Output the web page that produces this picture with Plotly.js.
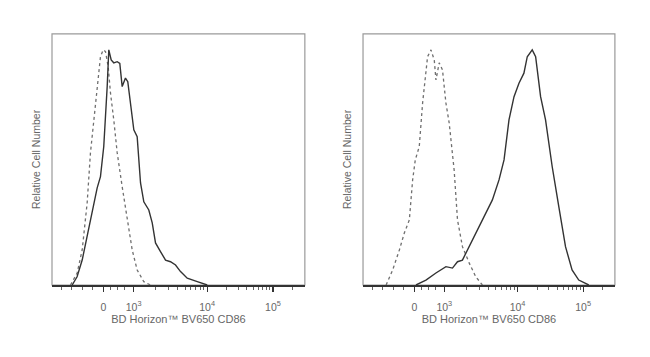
<!DOCTYPE html>
<html>
<head>
<meta charset="utf-8">
<script src="https://cdn.plot.ly/plotly-3.0.1.min.js"></script>
<style>html,body{margin:0;padding:0;background:#fff;}#chart{width:650px;height:357px;}</style>
</head>
<body>
<div id="chart"></div>
<script>
// x values are in logicle display units (0 = zero, ~0.43 = 10^3, ~1.48 = 10^4, ~2.42 = 10^5)
const tickVals = [0, 0.43, 1.48, 2.42];
const tickText = ['0', '10<sup>3</sup>', '10<sup>4</sup>', '10<sup>5</sup>'];
const xTitle = 'BD Horizon™ BV650 CD86';
const yTitle = 'Relative Cell Number';

// Left panel
const leftIsoX = [-0.471,-0.376,-0.304,-0.233,-0.186,-0.139,-0.09,-0.043,-0.004,0.029,0.067,0.1,0.147,0.196,0.267,0.339,0.41,0.481,0.576,0.671];
const leftIsoY = [0,0.051,0.149,0.349,0.562,0.702,0.83,0.971,1.0,0.993,0.929,0.817,0.702,0.562,0.418,0.277,0.149,0.064,0.014,0];
const leftStainX = [-0.447,-0.377,-0.304,-0.233,-0.139,-0.09,-0.043,0.004,0.053,0.076,0.11,0.147,0.196,0.233,0.267,0.314,0.347,0.386,0.433,0.481,0.504,0.529,0.576,0.647,0.696,0.743,0.814,0.886,0.957,1.029,1.1,1.196,1.339,1.481];
const leftStainY = [0,0.035,0.106,0.206,0.333,0.413,0.461,0.589,0.844,1.0,0.957,0.945,0.95,0.943,0.844,0.88,0.865,0.774,0.66,0.631,0.532,0.434,0.354,0.319,0.264,0.179,0.142,0.106,0.099,0.085,0.057,0.029,0.014,0];

// Right panel
const rightIsoX = [-0.404,-0.31,-0.214,-0.143,-0.071,-0.024,0.014,0.071,0.119,0.19,0.239,0.286,0.31,0.357,0.404,0.453,0.5,0.571,0.619,0.69,0.786,0.881,0.976];
const rightIsoY = [0,0.064,0.149,0.221,0.277,0.447,0.532,0.589,0.774,0.971,1.0,0.957,0.872,0.945,0.915,0.774,0.689,0.489,0.277,0.163,0.094,0.035,0];
const rightStainX = [0.024,0.167,0.31,0.453,0.547,0.619,0.69,0.761,0.833,0.929,1.024,1.119,1.214,1.286,1.357,1.429,1.5,1.571,1.619,1.69,1.739,1.81,1.881,1.976,2.071,2.167,2.261,2.357,2.5];
const rightStainY = [0,0.021,0.051,0.078,0.072,0.099,0.106,0.149,0.191,0.248,0.305,0.362,0.447,0.532,0.702,0.801,0.858,0.901,0.971,1.0,0.971,0.801,0.702,0.504,0.333,0.163,0.064,0.021,0];

// minor tick positions (log-spaced within decades)
const minorTicks = [];
[-0.6,-0.45,-0.3,-0.15,0.1,0.2,0.3].forEach(v => minorTicks.push(v));
for (let m = 2; m <= 9; m++) {
  minorTicks.push(tickVals[1] + (tickVals[2]-tickVals[1]) * Math.log10(m));
  minorTicks.push(tickVals[2] + (tickVals[3]-tickVals[2]) * Math.log10(m));
}
minorTicks.push(tickVals[3] + (tickVals[3]-tickVals[2]) * Math.log10(2));

const isoLine = {color: '#6f6f6f', width: 1.3, dash: 'dot'};
const stainLine = {color: '#333', width: 1.4};
const traces = [
  {x: leftIsoX, y: leftIsoY, type: 'scatter', mode: 'lines', line: isoLine, xaxis: 'x', yaxis: 'y', hoverinfo: 'none'},
  {x: leftStainX, y: leftStainY, type: 'scatter', mode: 'lines', line: stainLine, xaxis: 'x', yaxis: 'y', hoverinfo: 'none'},
  {x: rightIsoX, y: rightIsoY, type: 'scatter', mode: 'lines', line: isoLine, xaxis: 'x2', yaxis: 'y2', hoverinfo: 'none'},
  {x: rightStainX, y: rightStainY, type: 'scatter', mode: 'lines', line: stainLine, xaxis: 'x2', yaxis: 'y2', hoverinfo: 'none'}
];

const fam = 'Liberation Sans, Arial, sans-serif';
function xax(domain, anchor) {
  return {
    domain: domain, anchor: anchor, range: [-0.735, 2.875], fixedrange: true,
    showgrid: false, zeroline: false,
    showline: true, linecolor: '#333', linewidth: 2,
    tickmode: 'array', tickvals: tickVals, ticktext: tickText,
    ticks: 'outside', ticklen: 5, tickwidth: 1.2, tickcolor: '#333',
    ticklabelstandoff: 6,
    tickfont: {family: fam, size: 10.5, color: '#666'},
    minor: {tickmode: 'array', tickvals: minorTicks, ticks: 'outside', ticklen: 3, tickwidth: 1, tickcolor: '#666', showgrid: false},
    title: {text: xTitle, font: {family: fam, size: 11, color: '#666'}, standoff: 1},
    automargin: false
  };
}
function yax(domain, anchor) {
  return {
    domain: domain, anchor: anchor, range: [0, 1.068], fixedrange: true,
    showgrid: false, zeroline: false, showticklabels: false, ticks: '',
    showline: false,
    title: {text: yTitle, font: {family: fam, size: 10.5, color: '#666'}, standoff: 8},
    automargin: false
  };
}

const yDom = [0.2017, 0.905];
const layout = {
  width: 650, height: 357,
  margin: {l: 0, r: 0, t: 0, b: 0},
  paper_bgcolor: '#fff', plot_bgcolor: '#fff',
  showlegend: false,
  xaxis: xax([0.08, 0.469], 'y'),
  yaxis: yax(yDom, 'x'),
  xaxis2: xax([0.5585, 0.946], 'y2'),
  yaxis2: yax(yDom, 'x2'),
  shapes: [
    {type: 'rect', xref: 'x domain', yref: 'y domain', x0: 0, x1: 1, y0: 0, y1: 1, line: {color: '#9a9a9a', width: 1.2}, layer: 'below'},
    {type: 'rect', xref: 'x2 domain', yref: 'y2 domain', x0: 0, x1: 1, y0: 0, y1: 1, line: {color: '#9a9a9a', width: 1.2}, layer: 'below'}
  ]
};

Plotly.newPlot('chart', traces, layout, {staticPlot: true, displayModeBar: false});
</script>
</body>
</html>
